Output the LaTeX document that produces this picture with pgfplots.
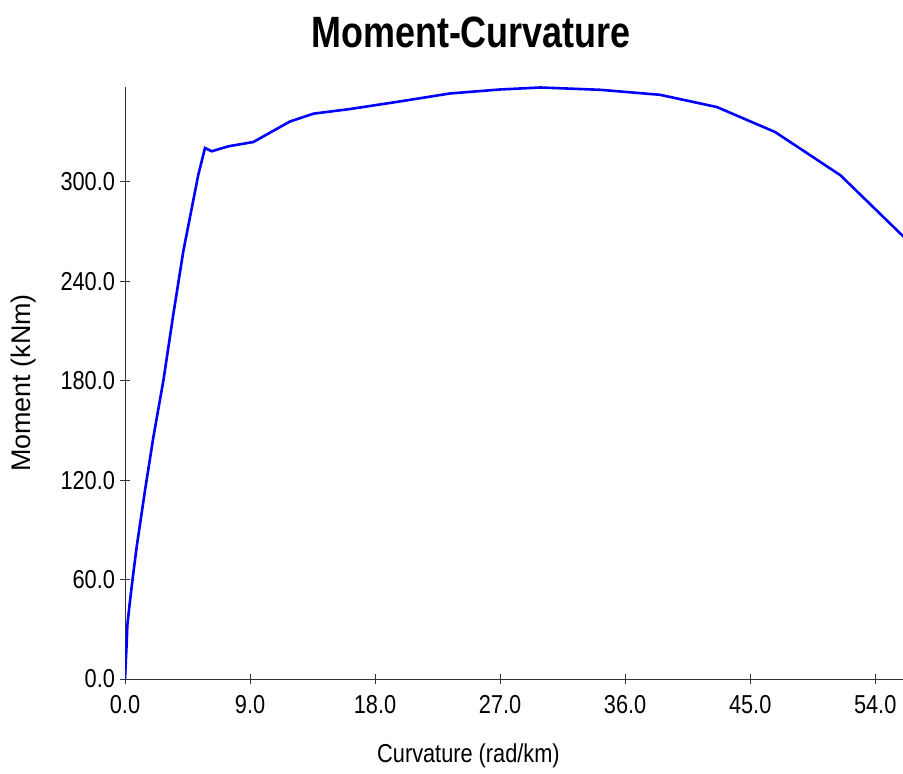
\documentclass[border=0pt]{standalone}
\usepackage{fontspec}
\setmainfont{Liberation Sans}
\newfontfamily\narrowfont[FakeStretch=0.84]{Liberation Sans}
\newfontfamily\narrowbold[FakeStretch=0.82]{Liberation Sans Bold}
\usepackage{pgfplots}
\pgfplotsset{compat=1.18}
\begin{document}
\begin{tikzpicture}
\useasboundingbox (0,0) rectangle (903bp,774bp);
\node[font=\narrowbold\fontsize{44}{50}\selectfont] at (471bp,742bp) {Moment-Curvature};
\begin{axis}[
  at={(125bp,95bp)}, anchor=south west,
  scale only axis, width=778bp, height=592bp,
  xmin=0, xmax=56, ymin=0, ymax=357.3,
  axis x line*=bottom, axis y line*=left,
  axis line style={black!80, line width=0.9bp},
  xtick={0,9,18,27,36,45,54},
  ytick={0,60,120,180,240,300},
  tick align=center, major tick length=9bp,
  tick style={black!80, line width=0.9bp},
  /pgf/number format/assume math mode=true,
  /pgf/number format/fixed, /pgf/number format/fixed zerofill, /pgf/number format/precision=1,
  ticklabel style={font=\narrowfont\fontsize{26}{30}\selectfont},
  xticklabel style={anchor=base, yshift=-30bp},
  yticklabel style={anchor=east, xshift=-2bp},
  xlabel={Curvature (rad/km)},
  ylabel={Moment (kNm)},
  x label style={font=\narrowfont\fontsize{26}{30}\selectfont, at={(axis description cs:0.4415,-0.13)}, anchor=center},
  y label style={font=\fontsize{27}{30}\selectfont, at={(axis description cs:-0.13,0.5)}, anchor=center, rotate=0},
]
\addplot[color={rgb,255:red,0;green,0;blue,255}, line width=2.6bp] coordinates {
(0,0)
(0.12,21.5)
(0.17,32.5)
(0.31,43.5)
(0.55,60.6)
(0.84,79.7)
(1.44,113.8)
(2.04,145.9)
(2.76,180.0)
(3.48,220.2)
(4.20,258.3)
(5.28,304.5)
(5.76,320.5)
(6.24,318.5)
(7.44,321.5)
(9.24,324.1)
(11.88,336.5)
(13.56,341.2)
(16.2,344)
(19.8,348.6)
(23.4,353.4)
(27.0,355.8)
(29.9,357.0)
(34.2,355.6)
(38.5,352.6)
(42.6,345.2)
(46.8,330.1)
(51.5,304.0)
(56.0,267.3)
(57.0,258.0)
};
\end{axis}
\end{tikzpicture}
\end{document}
